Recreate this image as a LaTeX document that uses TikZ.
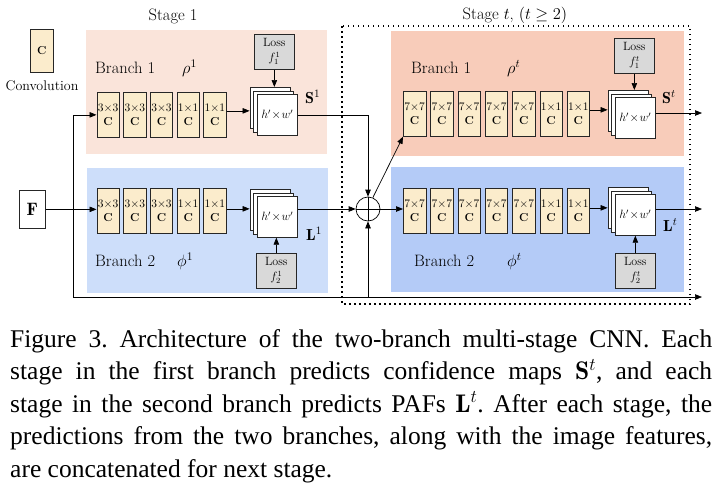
\RequirePackage{fix-cm}
\documentclass[tikz,border=0pt]{standalone}
\usepackage{fontspec}
\newfontfamily\capfont{Liberation Serif}
\usetikzlibrary{arrows.meta,calc}
\definecolor{pinkA}{HTML}{FAE4DA}
\definecolor{pinkB}{HTML}{F8CCBA}
\definecolor{blueA}{HTML}{CDDEFA}
\definecolor{blueB}{HTML}{B4CBF7}
\definecolor{convc}{HTML}{FBECCC}
\definecolor{lossc}{HTML}{D9D9D9}
\newcommand\mapstack[3]{%
  \node[mapbox] (#1c) at ({#2-7.4},{#3-7}) {};
  \node[mapbox] (#1b) at ({#2-3.7},{#3-3.5}) {};
  \node[mapbox] (#1) at (#2,#3) {$h'{\mkern1mu\times\mkern1mu}w'$};
}
\tikzset{
  convbox/.style={draw=black!85, fill=convc, line width=0.7pt, minimum width=22.5pt,
    minimum height=45pt, inner sep=0pt, align=center, anchor=north west,
    font=\fontsize{11.5}{14}\selectfont},
  lossbox/.style={draw=black!85, fill=lossc, line width=0.7pt, minimum width=40pt,
    minimum height=35pt, inner sep=0pt, align=center, anchor=north west,
    font=\fontsize{12}{13}\selectfont},
  mapbox/.style={draw=black!85, fill=white, line width=0.7pt, minimum width=40pt,
    minimum height=41pt, inner sep=0pt, anchor=north west,
    font=\fontsize{12}{14}\selectfont},
  lbl/.style={anchor=base west, inner sep=0pt, font=\fontsize{16.5}{20}\selectfont},
  arr/.style={-{Triangle[length=7pt,width=5.5pt]}, line width=0.7pt},
  ln/.style={line width=0.7pt},
}
\begin{document}
\begin{tikzpicture}[x=1pt,y=-1pt]
\useasboundingbox (0,0) rectangle (718,485);
% backgrounds
\fill[pinkA] (86,30) rectangle (327,154);
\fill[blueA] (87,168) rectangle (328,293);
\fill[pinkB] (391,31) rectangle (684,156);
\fill[blueB] (391,167) rectangle (684,292);
\draw[line width=1.5pt, dash pattern=on 1.5pt off 3.5pt] (342,26) rectangle (690,304);
% titles
\node[lbl, anchor=base] (stage1) at (173,20.5) {Stage 1};
\node[lbl, anchor=base] (staget) at (515,19) {Stage $t$, $(t\geq 2)$};
% legend
\node[convbox, minimum width=23pt, minimum height=43pt] (legc) at (30,29) {\textbf{C}};
\node[anchor=base, inner sep=0pt, font=\fontsize{14}{16}\selectfont] (legt) at (42,90) {Convolution};
% input
\node[draw=black!85, fill=white, line width=0.7pt, minimum width=26pt, minimum height=38pt,
  inner sep=0pt, anchor=north west, font=\fontsize{18}{20}\selectfont] (F) at (19,190) {$\mathbf{F}$};
% stage 1 convs
\foreach \k/\s in {1/3,2/3,3/3,4/1,5/1}{
  \node[convbox] (pa\k) at ({96.5+(\k-1)*26.7},92) {$\s{\times}\s$\\\textbf{C}};
  \node[convbox] (pb\k) at ({96.5+(\k-1)*26.7},188) {$\s{\times}\s$\\\textbf{C}};
}
% stage t convs
\foreach \k/\s in {1/7,2/7,3/7,4/7,5/7,6/1,7/1}{
  \node[convbox] (qa\k) at ({403+(\k-1)*27.3},91) {$\s{\times}\s$\\\textbf{C}};
  \node[convbox] (qb\k) at ({403+(\k-1)*27.3},188) {$\s{\times}\s$\\\textbf{C}};
}
% stacks
\mapstack{SA}{257}{94}
\mapstack{SB}{257}{196}
\mapstack{TA}{615}{97}
\mapstack{TB}{615}{194}
% losses
\node[lossbox] (LA) at (254,34) {Loss\\[2pt]$f_1^1$};
\node[lossbox] (LB) at (256,253) {Loss\\[2pt]$f_2^1$};
\node[lossbox] (LTA) at (614,38) {Loss\\[2pt]$f_1^t$};
\node[lossbox] (LTB) at (615,253) {Loss\\[2pt]$f_2^t$};
% labels
\node[lbl] (b1l) at (95,73) {Branch 1};
\node[lbl] (rho1) at (182,73) {$\rho^1$};
\node[lbl] (b2l) at (95,266.5) {Branch 2};
\node[lbl] (phi1) at (177,266.5) {$\phi^1$};
\node[lbl] (b1t) at (411,73) {Branch 1};
\node[lbl] (rhot) at (507,73) {$\rho^t$};
\node[lbl] (b2t) at (414,266.5) {Branch 2};
\node[lbl] (phit) at (507,266.5) {$\phi^t$};
\node[lbl, font=\fontsize{16}{18}\selectfont] (S1) at (305,103) {$\mathbf{S}^1$};
\node[lbl, font=\fontsize{16}{18}\selectfont] (L1) at (306,240.5) {$\mathbf{L}^1$};
\node[lbl, font=\fontsize{16}{18}\selectfont] (St) at (662,103) {$\mathbf{S}^t$};
\node[lbl, font=\fontsize{16}{18}\selectfont] (Lt) at (663,231.5) {$\mathbf{L}^t$};
% concat
\node[circle, draw, line width=0.7pt, minimum size=24pt, inner sep=0pt] (plus) at (368,209) {};
\draw[ln] (plus.north) -- (plus.south) (plus.west) -- (plus.east);
% coordinates
\coordinate (split) at (73,209);
\coordinate (bl) at (73,297);
\coordinate (br) at (702,297);
\coordinate (o1) at (702,113);
\coordinate (o2) at (702,209);
\coordinate (pa5o) at ($(pa5.east)+(0,-4)$);
\coordinate (pb5o) at ($(pb5.east)+(0,-2)$);
\coordinate (qa7o) at ($(qa7.east)+(0,-4)$);
\coordinate (qb7o) at ($(qb7.east)+(0,-3)$);
% connectors
\draw[arr] (F.east) -- (F.east -| pb1.west);
\draw[arr] (split) |- (pa1.west);
\draw[ln] (split) -- (bl);
\draw[arr] (bl) -- (br);
\draw[arr] (plus.south |- bl) -- (plus.south);
\draw[arr] (pa5o) -- (pa5o -| SAc.west);
\draw[arr] (pb5o) -- (pb5o -| SBc.west);
\draw[arr] (qa7o) -- (qa7o -| TAc.west);
\draw[arr] (qb7o) -- (qb7o -| TBc.west);
\draw[arr] (LA.south) -- (LA.south |- SAc.north);
\draw[arr] (LB.north) -- (LB.north |- SB.south);
\draw[arr] (LTA.south) -- (LTA.south |- TAc.north);
\draw[arr] (LTB.north) -- (LTB.north |- TB.south);
\draw[arr] (SA.east) -| (plus.north);
\draw[arr] (SB.east |- plus.west) -- (plus.west);
\draw[arr] (plus.67) -- (qa1.south west);
\draw[arr] (plus.east) -- (plus.east -| qb1.west);
\draw[arr] (TA.east |- o1) -- (o1);
\draw[arr] (TB.east |- o2) -- (o2);
% caption
\node[anchor=base west, inner sep=0pt] (cap) at (10,347) {\parbox[t]{702pt}{\capfont\fontsize{25.5}{32.5}\selectfont\frenchspacing\tolerance=9999\hbadness=10000
Figure 3. Architecture of the two-branch multi-stage CNN. Each\linebreak
stage in the first branch predicts confidence maps $\mathbf{S}^t$, and each\linebreak
stage in the second branch predicts PAFs $\mathbf{L}^t$. After each stage, the\linebreak
predictions from the two branches, along with the image features,\linebreak
are concatenated for next stage.}};
\end{tikzpicture}
\end{document}
